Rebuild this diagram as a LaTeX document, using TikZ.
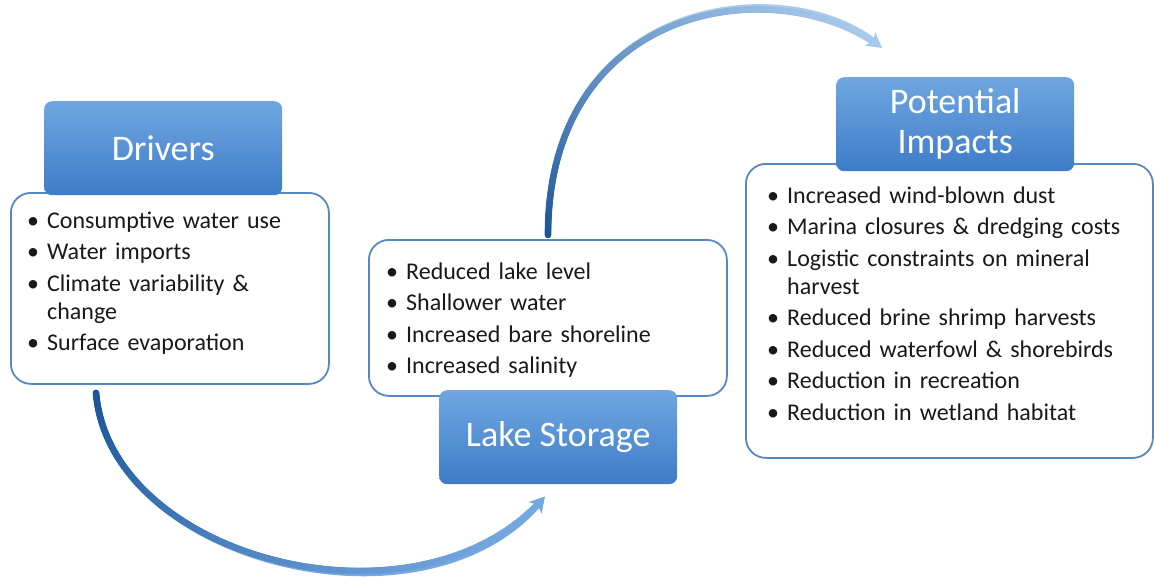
\documentclass[tikz,border=0pt]{standalone}
\usepackage{fontspec}
\setmainfont{Carlito}
\usetikzlibrary{arrows.meta,decorations.markings,calc}
\definecolor{hdtop}{RGB}{112,167,226}
\definecolor{hdbot}{RGB}{62,124,200}
\definecolor{bodyline}{RGB}{88,136,196}
\definecolor{arrdark}{RGB}{26,84,152}
\definecolor{arrlightA}{RGB}{118,168,224}
\definecolor{arrlightB}{RGB}{168,202,236}
\definecolor{txt}{RGB}{25,25,25}
\newcommand\bitem[1]{\hangindent=20pt\hangafter=1\noindent\makebox[20pt][l]{•}#1\par}
\tikzset{
  hdbox/.style={rounded corners=8pt, top color=hdtop, bottom color=hdbot, draw=none,
    minimum width=238pt, minimum height=94pt, text=white, align=center,
    font=\fontsize{36}{40}\selectfont, inner sep=0pt},
  bodybox/.style={rounded corners=20pt, draw=bodyline, line width=1.8pt, fill=white,
    inner sep=0pt},
  listtxt/.style={anchor=base west, inner sep=0pt, text=txt, text width=#1,
    font=\fontsize{24}{28}\selectfont\setlength{\parskip}{3.5pt}},
  gradmarks/.style n args={2}{postaction={decorate, decoration={markings,
    mark=between positions 0 and 0.975 step 1pt with {
      \pgfmathsetmacro\fr{\pgfkeysvalueof{/pgf/decoration/mark info/distance from start}/\pgfdecoratedpathlength}
      \pgfmathsetmacro\pcv{100*(1-\fr)^1.6}
      \fill[#1!\pcv!#2] (0,0) circle (3.3pt);}}}},
}
\begin{document}
\begin{tikzpicture}[x=1pt,y=-1pt]
\useasboundingbox[fill=white] (0,0) rectangle (1154,576);
% bodies
\node[bodybox, minimum width=318pt, minimum height=191pt, anchor=north west] (drvbody) at (10,192) {};
\node[bodybox, minimum width=358pt, minimum height=156pt, anchor=north west] (lakebody) at (368,239) {};
\node[bodybox, minimum width=407pt, minimum height=294pt, anchor=north west] (impbody) at (745,163) {};
% headers
\node[hdbox, anchor=north west] (drvhead) at (44,101) {Drivers};
\node[hdbox, anchor=north west] (lakehead) at (439,390) {Lake Storage};
\node[hdbox, anchor=north west] (imphead) at (836,77) {Potential\\Impacts};
% lists
\node[listtxt=295pt] (drvlist) at (27,228) {%
\bitem{Consumptive water use}%
\bitem{Water imports}%
\bitem{Climate variability \&\newline change}%
\bitem{Surface evaporation}};
\node[listtxt=330pt] (lakelist) at (386,279) {%
\bitem{Reduced lake level}%
\bitem{Shallower water}%
\bitem{Increased bare shoreline}%
\bitem{Increased salinity}};
\node[listtxt=380pt] (implist) at (767,203) {%
\bitem{Increased wind-blown dust}%
\bitem{Marina closures \& dredging costs}%
\bitem{Logistic constraints on mineral\newline harvest}%
\bitem{Reduced brine shrimp harvests}%
\bitem{Reduced waterfowl \& shorebirds}%
\bitem{Reduction in recreation}%
\bitem{Reduction in wetland habitat}};
% connectors
\coordinate (a1s) at ($(drvbody.south west)+(86,8)$);
\coordinate (a1e) at ($(lakehead.south west)+(106,12)$);
\coordinate (a2s) at ($(lakebody.north west)+(180,-4)$);
\coordinate (a2e) at ($(imphead.north west)+(46,-29)$);
\draw[line width=6.6pt, arrlightA, -{Stealth[length=15pt,width=17pt,inset=4pt]}, gradmarks={arrdark}{arrlightA}]
  (a1s) .. controls (110,560) and (420,640) .. (a1e);
\draw[line width=6.6pt, arrlightB, -{Stealth[length=15pt,width=17pt,inset=4pt]}, gradmarks={arrdark}{arrlightB}]
  (a2s) .. controls (548,0) and (780,-30) .. (a2e);
\end{tikzpicture}
\end{document}
